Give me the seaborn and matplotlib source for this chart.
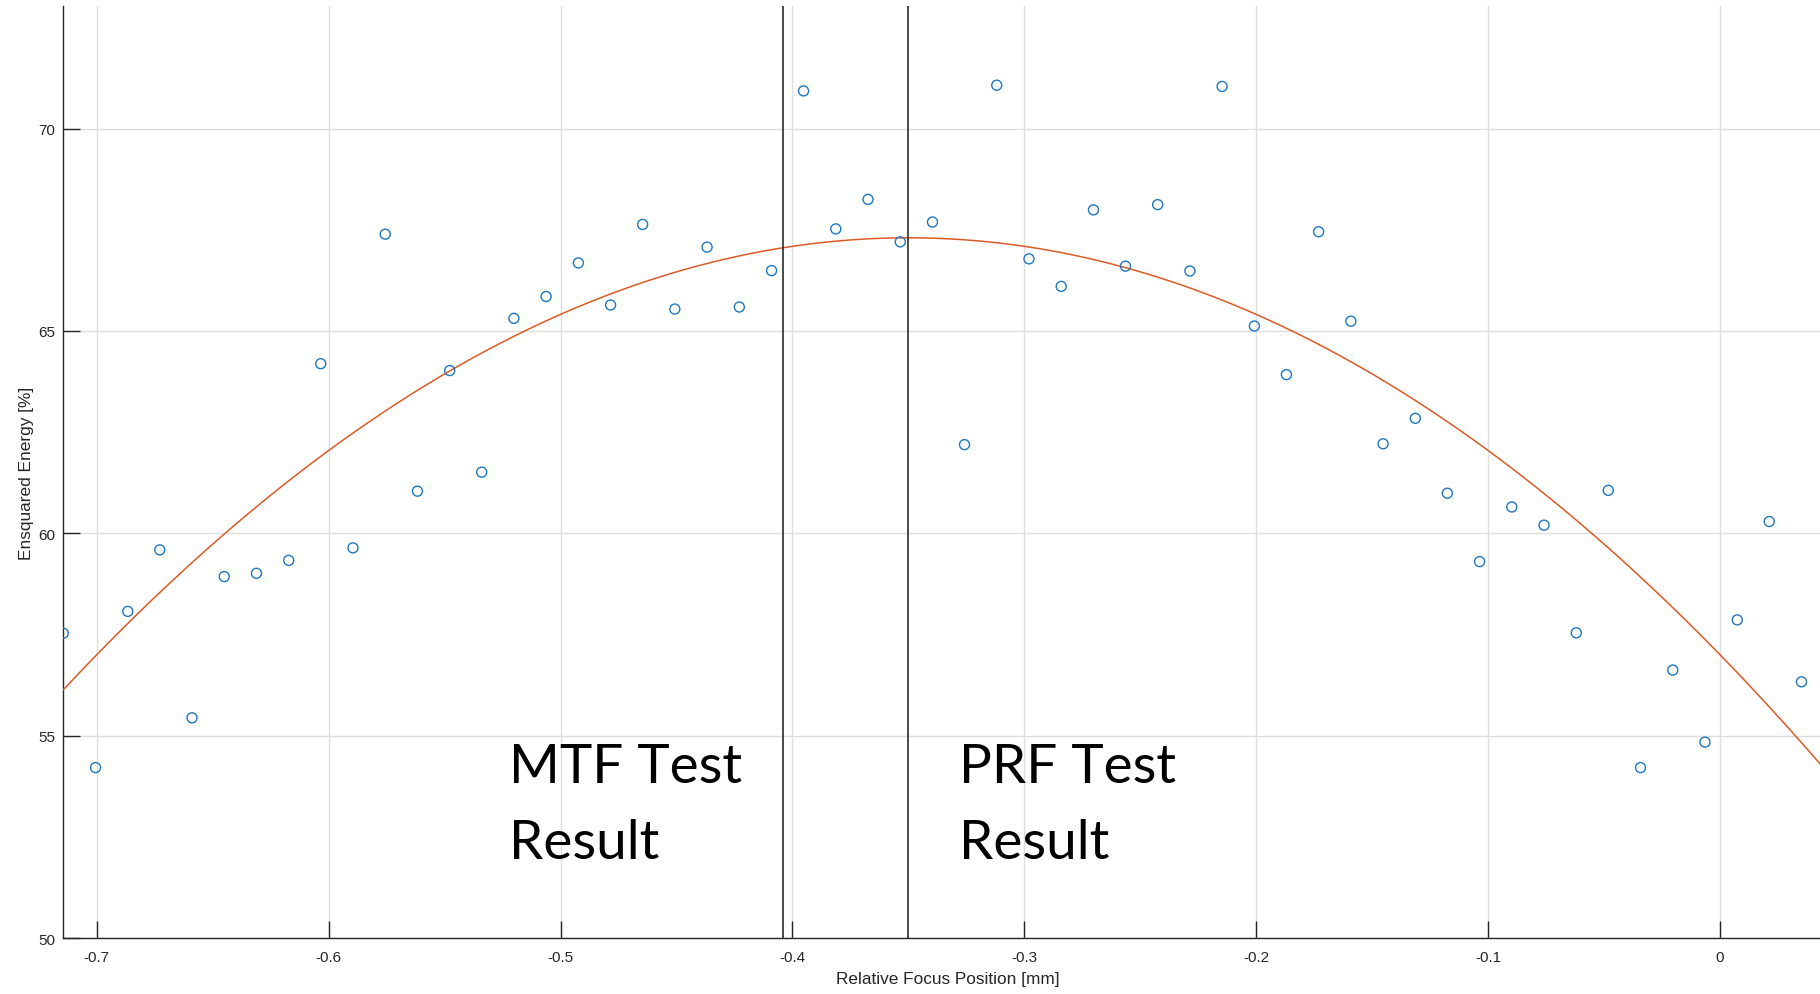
import numpy as np
import pandas as pd
import matplotlib
matplotlib.use("Agg")
import matplotlib.pyplot as plt
import seaborn as sns

# ---- data ----
focus_pos = [-0.7144, -0.7005, -0.6866, -0.6728, -0.6589, -0.6450, -0.6311, -0.6172,
             -0.6034, -0.5895, -0.5756, -0.5617, -0.5478, -0.5340, -0.5201, -0.5062,
             -0.4923, -0.4784, -0.4646, -0.4507, -0.4368, -0.4229, -0.4090, -0.3952,
             -0.3813, -0.3674, -0.3535, -0.3396, -0.3258, -0.3119, -0.2980, -0.2841,
             -0.2702, -0.2564, -0.2425, -0.2286, -0.2147, -0.2008, -0.1870, -0.1731,
             -0.1592, -0.1453, -0.1314, -0.1176, -0.1037, -0.0898, -0.0759, -0.0620,
             -0.0482, -0.0343, -0.0204, -0.0065, 0.0074, 0.0212, 0.0351]
ensquared_energy = [57.53, 54.21, 58.07, 59.59, 55.44, 58.93, 59.01, 59.33, 64.19, 59.64,
                    67.39, 61.04, 64.02, 61.51, 65.31, 65.85, 66.68, 65.64, 67.63, 65.54,
                    67.07, 65.59, 66.49, 70.93, 67.52, 68.25, 67.20, 67.69, 62.19, 71.07,
                    66.78, 66.10, 67.99, 66.60, 68.12, 66.48, 71.04, 65.12, 63.92, 67.45,
                    65.24, 62.21, 62.84, 60.99, 59.30, 60.65, 60.20, 57.54, 61.06, 54.21,
                    56.62, 54.84, 57.86, 60.29, 56.33]

# quadratic fit shown in the chart: y = peak_y - curvature * (x - peak_x)^2
fit_peak_x = -0.350
fit_peak_y = 67.30
fit_curvature = 84.1

mtf_result_x = -0.404
prf_result_x = -0.350

xticks = [-0.7, -0.6, -0.5, -0.4, -0.3, -0.2, -0.1, 0]
xtick_labels = ["-0.7", "-0.6", "-0.5", "-0.4", "-0.3", "-0.2", "-0.1", "0"]
yticks = [50, 55, 60, 65, 70]
ytick_labels = ["50", "55", "60", "65", "70"]

xlim = (-0.7144, 0.049)
ylim = (50, 73.02)

# ---- styling ----
sns.set_style("white")
plt.rcParams["font.family"] = ["Liberation Sans", "DejaVu Sans"]

BLUE = "#1f77c0"
ORANGE = "#dc5a26"
AX_COLOR = "#262626"
GRID_COLOR = "#dedede"

fig = plt.figure(figsize=(18.2, 9.95), dpi=100)
W, H = 1820, 995
left_px, right_px, top_px, bottom_px = 63.3, 1833.7, 7.3, 939
ax = fig.add_axes([left_px / W, (H - bottom_px) / H,
                   (right_px - left_px) / W, (bottom_px - top_px) / H])

df = pd.DataFrame({"pos": focus_pos, "ee": ensquared_energy})

# fit curve from stored coefficients
fit_x = np.linspace(xlim[0], xlim[1], 400)
fit_y = fit_peak_y - fit_curvature * (fit_x - fit_peak_x) ** 2
fit_df = pd.DataFrame({"pos": fit_x, "ee": fit_y})

ax.set_axisbelow(True)
ax.grid(True, color=GRID_COLOR, linewidth=1.0)

sns.lineplot(data=fit_df, x="pos", y="ee", ax=ax, color=ORANGE, linewidth=1.1,
             zorder=3, legend=False)
sns.scatterplot(data=df, x="pos", y="ee", ax=ax, marker="o", s=52,
                facecolor="none", edgecolor=BLUE, linewidth=1.0, zorder=4,
                legend=False)

for xv in (mtf_result_x, prf_result_x):
    ax.axvline(xv, color="#1a1a1a", linewidth=1.1, zorder=5)

ax.set_xlim(*xlim)
ax.set_ylim(*ylim)
ax.set_xticks(xticks)
ax.set_xticklabels(xtick_labels)
ax.set_yticks(yticks)
ax.set_yticklabels(ytick_labels)

ax.tick_params(axis="both", direction="in", length=12, width=1.0,
               colors=AX_COLOR, labelsize=11, bottom=True, left=True,
               top=False, right=False)
ax.tick_params(axis="x", pad=8.5)
ax.tick_params(axis="y", pad=6)

for side in ("top", "right"):
    ax.spines[side].set_visible(False)
for side in ("left", "bottom"):
    ax.spines[side].set_color(AX_COLOR)
    ax.spines[side].set_linewidth(1.0)

ax.set_xlabel("Relative Focus Position [mm]", fontsize=12.4, color=AX_COLOR)
ax.set_ylabel("Ensquared Energy [%]", fontsize=12.4, color=AX_COLOR)
ax.xaxis.set_label_coords(0.4997, -0.0355)
ax.yaxis.set_label_coords(-0.0168, 0.50)

txt_kw = dict(fontsize=39.5, family=["Lato", "DejaVu Sans"], color="black",
              ha="left", va="baseline", zorder=6)
ax.text(-0.5220, 53.85, "MTF Test", **txt_kw)
ax.text(-0.5220, 51.97, "Result", **txt_kw)
ax.text(-0.3280, 53.85, "PRF Test", **txt_kw)
ax.text(-0.3280, 51.97, "Result", **txt_kw)

fig.savefig("out.png", dpi=100)
